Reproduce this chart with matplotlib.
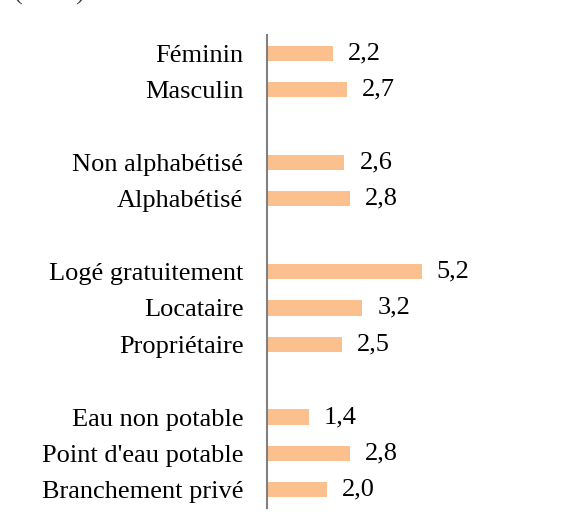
import numpy as np
import matplotlib
matplotlib.use("Agg")
import matplotlib.pyplot as plt

# Données
categories = ["Féminin", "Masculin",
              "Non alphabétisé", "Alphabétisé",
              "Logé gratuitement", "Locataire", "Propriétaire",
              "Eau non potable", "Point d'eau potable", "Branchement privé"]
values = [2.2, 2.7, 2.6, 2.8, 5.2, 3.2, 2.5, 1.4, 2.8, 2.0]
rows = [0, 1, 3, 4, 6, 7, 8, 10, 11, 12]

plt.rcParams['font.family'] = ['Liberation Serif', 'DejaVu Serif']

fig = plt.figure(figsize=(5.74, 5.30), dpi=100)
ax = fig.add_axes([267 / 574, 22 / 530, 290 / 574, 473 / 530])

ax.barh(rows, values, height=0.42, color="#fbc08e")
for r, v in zip(rows, values):
    ax.text(v + 0.5, r, f"{v:.1f}".replace(".", ","), va="center", ha="left",
            fontsize=19, color="black")

ax.set_ylim(12.5, -0.5)
ax.set_xlim(0, 290 / 29.8)
ax.set_yticks(rows)
ax.set_yticklabels(categories, fontsize=19)
ax.tick_params(axis="y", length=0, pad=17)
ax.set_xticks([])
for s in ["top", "right", "bottom"]:
    ax.spines[s].set_visible(False)
ax.spines["left"].set_color("#808080")
ax.spines["left"].set_linewidth(1.5)

# titre coupé en haut
fig.text(14 / 574, 1.0, "(en %)", fontsize=19, color="#404040",
         ha="left", va="baseline")

fig.savefig("out.png", dpi=100)
